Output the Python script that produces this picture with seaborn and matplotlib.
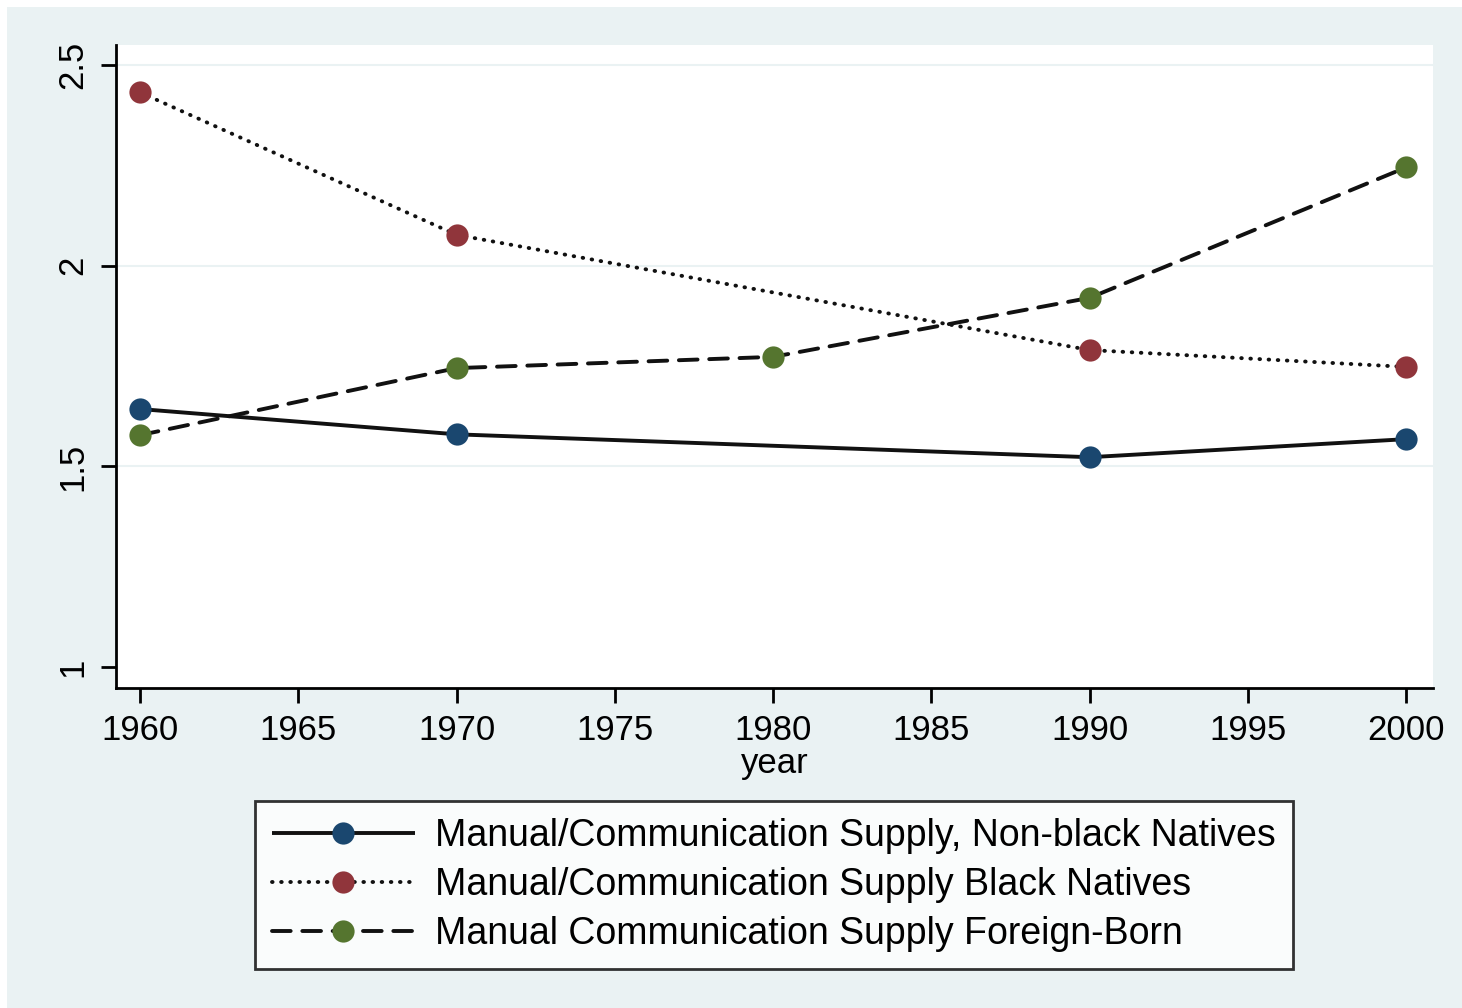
import pandas as pd
import matplotlib.pyplot as plt
import seaborn as sns
from matplotlib.patches import Rectangle

# values
years_nonblack = [1960, 1970, 1990, 2000]
supply_nonblack = [1.643, 1.580, 1.523, 1.568]

years_black = [1960, 1970, 1990, 2000]
supply_black = [2.432, 2.077, 1.790, 1.748]

years_foreign = [1960, 1970, 1980, 1990, 2000]
supply_foreign = [1.578, 1.745, 1.773, 1.920, 2.245]

labels = ["Manual/Communication Supply, Non-black Natives",
          "Manual/Communication Supply Black Natives",
          "Manual Communication Supply Foreign-Born"]

x_ticks = [1960, 1965, 1970, 1975, 1980, 1985, 1990, 1995, 2000]
y_ticks = [1, 1.5, 2, 2.5]

sns.set_theme(style="white")
plt.rcParams['font.family'] = ['Liberation Sans', 'DejaVu Sans']
plt.rcParams['text.color'] = 'black'
plt.rcParams['axes.labelcolor'] = 'black'

W, H = 1462, 1008
fig = plt.figure(figsize=(W / 100, H / 100), dpi=100, facecolor="white")
# Stata-like graph region
fig.patches.append(Rectangle((7 / W, 0), 1 - 7 / W, 1 - 7 / H, transform=fig.transFigure,
                             facecolor="#EAF2F3", edgecolor="none", zorder=-10))
ax = fig.add_axes([116 / W, 1 - 688 / H, (1433 - 116) / W, (688 - 45) / H])
ax.set_facecolor("white")

series = [
    (years_nonblack, supply_nonblack, "-", "#1A476F"),
    (years_black, supply_black, (0, (0.15, 2.2)), "#90353B"),
    (years_foreign, supply_foreign, (0, (4.8, 3.0)), "#55752F"),
]
for (xs, ys, ls, mc), lab in zip(series, labels):
    df = pd.DataFrame({"year": xs, "supply": ys})
    sns.lineplot(data=df, x="year", y="supply", ax=ax, color="#111111", linestyle=ls,
                 linewidth=2.8, marker="o", markersize=16, markerfacecolor=mc,
                 markeredgecolor=mc, markeredgewidth=0, label=lab,
                 dash_capstyle="round", solid_capstyle="butt")

ax.set_xlim(1959.24, 2000.85)
ax.set_ylim(0.948, 2.55)
ax.set_xticks(x_ticks)
ax.set_yticks(y_ticks)
ax.set_yticklabels(["1", "1.5", "2", "2.5"], rotation=90, va="center")
for y in y_ticks[1:]:
    ax.axhline(y, color="#EAF2F3", linewidth=1.5, zorder=0)

for side in ["top", "right"]:
    ax.spines[side].set_visible(False)
for side in ["left", "bottom"]:
    ax.spines[side].set_color("black")
    ax.spines[side].set_linewidth(2)
ax.tick_params(axis="both", direction="out", length=11, width=2, color="black",
               labelsize=25, labelcolor="black", pad=8, left=True, bottom=True)
ax.set_xlabel("year", fontsize=25, color="black", labelpad=0)
ax.set_ylabel("")

leg = ax.legend(loc="upper center", bbox_to_anchor=(774 / W, 1 - 801 / H),
                bbox_transform=fig.transFigure, fontsize=27, frameon=True,
                fancybox=False, edgecolor="black", facecolor="white",
                handlelength=3.8, handletextpad=0.55, labelspacing=0.35,
                borderpad=0.45, borderaxespad=0)
leg.get_frame().set_linewidth(2)

fig.savefig("out.png", dpi=100, facecolor=fig.get_facecolor())
